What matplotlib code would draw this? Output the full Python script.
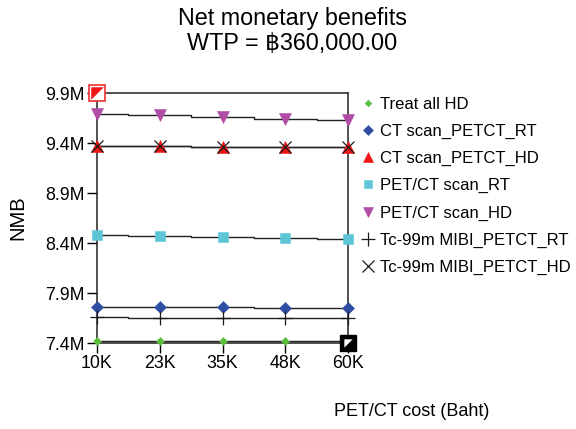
import matplotlib.pyplot as plt
from matplotlib.lines import Line2D

plt.rcParams['font.family'] = ['Liberation Sans', 'DejaVu Sans', 'Noto Sans']

# PET/CT cost (Baht)
costs = [10000, 22500, 35000, 47500, 60000]
tick_labels = ['10K', '23K', '35K', '48K', '60K']
nmb_ticks = [7.4e6, 7.9e6, 8.4e6, 8.9e6, 9.4e6, 9.9e6]
nmb_tick_labels = ['7.4M', '7.9M', '8.4M', '8.9M', '9.4M', '9.9M']

# NMB por estrategia
treat_all_hd = [7.425e6, 7.423e6, 7.421e6, 7.419e6, 7.417e6]
ct_petct_rt = [7.760e6, 7.758e6, 7.756e6, 7.752e6, 7.750e6]
ct_petct_hd = [9.370e6, 9.368e6, 9.365e6, 9.362e6, 9.358e6]
petct_rt = [8.485e6, 8.472e6, 8.463e6, 8.455e6, 8.445e6]
petct_hd = [9.693e6, 9.680e6, 9.660e6, 9.643e6, 9.630e6]
mibi_petct_rt = [7.665e6, 7.655e6, 7.653e6, 7.652e6, 7.650e6]
mibi_petct_hd = [9.368e6, 9.366e6, 9.364e6, 9.361e6, 9.357e6]

series = [
    ('Treat all HD', treat_all_hd, 'D', '#5cbf3c', 4),
    ('CT scan_PETCT_RT', ct_petct_rt, 'D', '#2f4ea3', 6),
    ('CT scan_PETCT_HD', ct_petct_hd, '^', '#f01616', 8),
    ('PET/CT scan_RT', petct_rt, 's', '#5cc6d6', 7),
    ('PET/CT scan_HD', petct_hd, 'v', '#b04ca6', 8),
    ('Tc-99m MIBI_PETCT_RT', mibi_petct_rt, '+', '#1a1a1a', 10),
    ('Tc-99m MIBI_PETCT_HD', mibi_petct_hd, 'x', '#1a1a1a', 8),
]

fig = plt.figure(figsize=(5.76, 4.29), dpi=100)
ax = fig.add_axes([97/576, 1 - 343/429, 251/576, 250/429])

handles = []
for name, vals, mk, col, ms in series:
    ax.plot(costs, vals, drawstyle='steps-mid', color='#222222', lw=1.0, zorder=2)
    ax.plot(costs, vals, ls='none', marker=mk, color=col, ms=ms,
            markeredgewidth=0.9 if mk in '+x' else 0.4, zorder=3, clip_on=False)
    handles.append(Line2D([], [], ls='none', marker=mk, color=col,
                          ms=ms if mk in '+x' else ms*0.85,
                          markeredgewidth=0.9 if mk in '+x' else 0.4))

ax.set_xlim(costs[0], costs[-1])
ax.set_ylim(nmb_ticks[0], nmb_ticks[-1])
ax.set_xticks(costs, tick_labels)
ax.set_yticks(nmb_ticks, nmb_tick_labels)
ax.tick_params(labelsize=12.8, length=7, width=1, direction='out', pad=2)
for s in ax.spines.values():
    s.set_linewidth(1.1)
    s.set_color('#222222')

# marcadores de esquina (como en TreeAge)
tri = [(-1, 1), (1, 1), (-1, -1)]
ax.plot(costs[0], nmb_ticks[-1], marker='s', ms=11, mfc='white', mec='#f03030',
        mew=1.2, clip_on=False, zorder=5)
ax.plot(costs[0], nmb_ticks[-1], marker=tri, ms=9, color='#f01616', mew=0,
        clip_on=False, zorder=6)
ax.plot(costs[-1], nmb_ticks[0], marker='s', ms=11, mfc='black', mec='black',
        clip_on=False, zorder=5)
ax.plot(costs[-1], nmb_ticks[0], marker=tri, ms=6, color='white', mew=0,
        clip_on=False, zorder=6)

fig.text(292/576, 1 - 31/429, 'Net monetary benefits\nWTP = \u0e3f360,000.00',
         ha='center', va='center', fontsize=16.8, linespacing=1.12)
ax.set_ylabel('NMB', fontsize=14.5, labelpad=13)
fig.text(412/576, 1 - 411/429, 'PET/CT cost (Baht)', ha='center', va='center', fontsize=13)

fig.legend(handles, [s[0] for s in series], loc='upper left',
           bbox_to_anchor=(363/576, 1 - 97/429), frameon=False, fontsize=12,
           handlelength=0.6, handletextpad=0.4, labelspacing=0.72, borderpad=0,
           borderaxespad=0)

fig.savefig('out.png', dpi=100)
